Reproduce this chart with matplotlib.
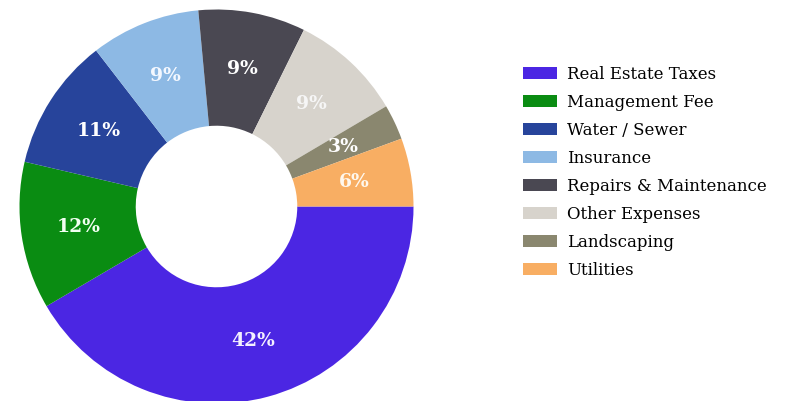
import matplotlib
matplotlib.use("Agg")
import matplotlib.pyplot as plt
from matplotlib.patches import Patch

categories = ["Real Estate Taxes", "Management Fee", "Water / Sewer", "Insurance",
              "Repairs & Maintenance", "Other Expenses", "Landscaping", "Utilities"]
shares = [41.6, 12.1, 10.9, 9.0, 8.8, 9.2, 2.9, 5.6]
colors = ["#4B26E3", "#0A8C12", "#27449B", "#8DB9E4", "#4A4852", "#D7D3CC", "#8A876F", "#F8AE63"]
label_colors = ["#F4F0FF", "#F2FFF2", "#FFFFFF", "#F4F8FF", "#FFFFFF", "#F6F6F6", "#FFFFFF", "#FFF8EE"]

W, H = 788, 401
fig = plt.figure(figsize=(W / 100, H / 100), dpi=100)
cx, cy, R = 216.5, 206.5, 197
ax = fig.add_axes([(cx - R) / W, (H - cy - R) / H, 2 * R / W, 2 * R / H])

wedges, texts, autotexts = ax.pie(
    shares, colors=colors, startangle=0, counterclock=False, radius=1,
    wedgeprops=dict(width=0.59, linewidth=0),
    autopct=lambda p: "%d%%" % int(round(p)), pctdistance=0.71,
    textprops=dict(fontfamily="DejaVu Serif", fontweight="bold", fontsize=13.5))
for t, c in zip(autotexts, label_colors):
    t.set_color(c)
ax.set_xlim(-1, 1)
ax.set_ylim(-1, 1)
ax.set_aspect("equal")
ax.axis("off")

handles = [Patch(facecolor=c, edgecolor="none") for c in colors]
fs = 12
px = fs * 100 / 72
fig.legend(handles, categories, loc="upper left",
           bbox_to_anchor=(523 / W, 1 - 66 / H), frameon=False,
           prop=dict(family="DejaVu Serif", size=fs),
           handlelength=34 / px, handleheight=12 / px, labelspacing=0.66,
           handletextpad=10 / px, borderpad=0, borderaxespad=0)

fig.savefig("out.png", dpi=100, facecolor="white")
